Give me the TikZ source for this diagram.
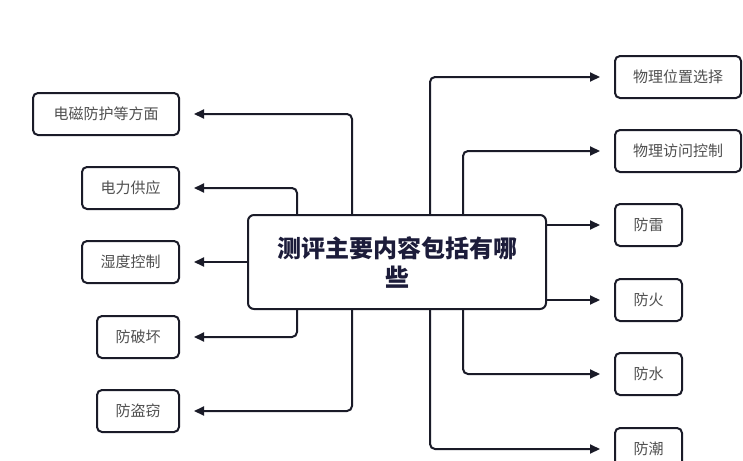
\documentclass[tikz,border=0pt]{standalone}
\usepackage{fontspec}
\setmainfont{Noto Sans CJK SC}
\usetikzlibrary{arrows.meta}
\definecolor{edgec}{HTML}{1A1B28}
\definecolor{leaftext}{HTML}{505050}
\definecolor{titletext}{HTML}{1C1C3A}
\begin{document}
\begin{tikzpicture}[x=1pt,y=-1pt,
  leaf/.style={draw=edgec, line width=2pt, rounded corners=5pt, minimum height=42pt,
    inner sep=0pt, text=leaftext, font=\fontsize{15}{17}\selectfont},
  centerbox/.style={draw=edgec, line width=2pt, rounded corners=6pt, minimum width=298pt,
    minimum height=94pt, inner sep=0pt, text=titletext, align=center,
    font=\fontsize{24}{29}\selectfont\bfseries},
  arr/.style={draw=edgec, line width=2pt, rounded corners=5pt,
    -{Triangle[length=10pt,width=9pt]}, shorten >=14pt}]
\useasboundingbox (0,0) rectangle (743,460);
\fill[white] (0,0) rectangle (743,460);

\node[centerbox] (c) at (397,262) {测评主要内容包括有哪\\些};

\node[leaf, minimum width=146pt] (l1) at (106,114) {电磁防护等方面};
\node[leaf, minimum width=97pt] (l2) at (130.5,188) {电力供应};
\node[leaf, minimum width=97pt] (l3) at (130.5,262) {湿度控制};
\node[leaf, minimum width=82pt] (l4) at (138,337) {防破坏};
\node[leaf, minimum width=82pt] (l5) at (138,411) {防盗窃};

\node[leaf, minimum width=126pt] (r1) at (678,77) {物理位置选择};
\node[leaf, minimum width=126pt] (r2) at (678,151) {物理访问控制};
\node[leaf, minimum width=67pt] (r3) at (648.5,225) {防雷};
\node[leaf, minimum width=67pt] (r4) at (648.5,300) {防火};
\node[leaf, minimum width=67pt] (r5) at (648.5,374) {防水};
\node[leaf, minimum width=67pt] (r6) at (648.5,449) {防潮};

\coordinate (xa) at (352,0);
\coordinate (xb) at (297,0);
\coordinate (xc) at (430,0);
\coordinate (xd) at (463,0);

\draw[arr] (c.north -| xa) |- (l1.east);
\draw[arr] (c.north -| xb) |- (l2.east);
\draw[arr] (c.west |- l3.east) -- (l3.east);
\draw[arr] (c.south -| xb) |- (l4.east);
\draw[arr] (c.south -| xa) |- (l5.east);

\draw[arr] (c.north -| xc) |- (r1.west);
\draw[arr] (c.north -| xd) |- (r2.west);
\draw[arr] (c.east |- r3.west) -- (r3.west);
\draw[arr] (c.east |- r4.west) -- (r4.west);
\draw[arr] (c.south -| xd) |- (r5.west);
\draw[arr] (c.south -| xc) |- (r6.west);
\end{tikzpicture}
\end{document}
